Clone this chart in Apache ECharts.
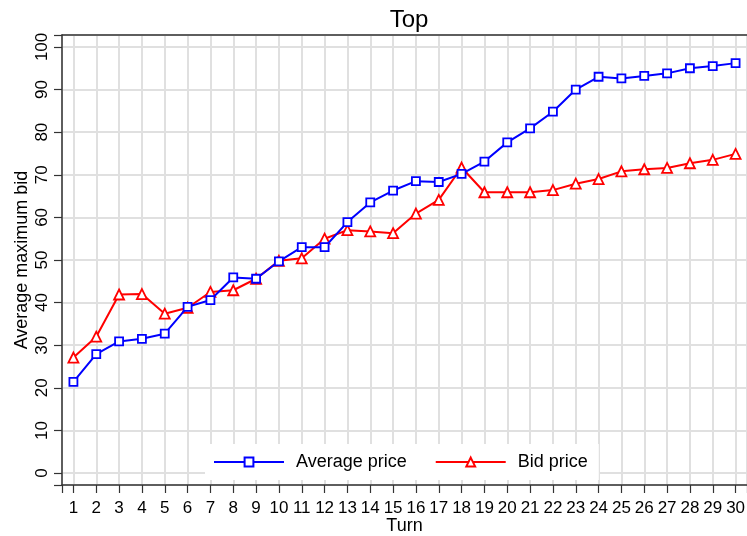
<!DOCTYPE html>
<html><head><meta charset="utf-8">
<script src="https://cdn.jsdelivr.net/npm/echarts@6/dist/echarts.min.js"></script>
<style>html,body{margin:0;padding:0;background:#fff}#c{width:747px;height:536px}</style>
</head><body><div id="c"></div>
<script>
const turns = [1,2,3,4,5,6,7,8,9,10,11,12,13,14,15,16,17,18,19,20,21,22,23,24,25,26,27,28,29,30];
const averagePrice = [21.4,27.9,30.9,31.5,32.7,39.0,40.6,45.9,45.6,49.7,53.0,53.0,58.9,63.5,66.3,68.5,68.3,70.2,73.1,77.6,80.9,84.8,90.0,93.0,92.6,93.2,93.8,95.0,95.5,96.2];
const bidPrice = [27.1,32.0,41.9,42.0,37.4,38.8,42.5,42.9,45.6,49.8,50.4,55.0,57.0,56.7,56.3,60.9,64.1,71.7,65.9,65.9,65.9,66.4,67.9,69.0,70.8,71.3,71.6,72.7,73.5,74.9];
const seriesNames = ['Average price', 'Bid price'];
const titleText = 'Top';
const xName = 'Turn';
const yName = 'Average maximum bid';

const chart = echarts.init(document.getElementById('c'), null, {renderer: 'canvas'});
const font = 'Liberation Sans, Arial, sans-serif';
const gridLine = {show: true, lineStyle: {color: '#e0e0e0', width: 2}};
const axisLine = {show: true, onZero: false, lineStyle: {color: '#333', width: 1.5}};
const pairs = vals => turns.map((t, i) => [t, vals[i]]);

chart.setOption({
  animation: false,
  backgroundColor: '#fff',
  title: {text: titleText, left: 404, textAlign: 'center', top: 3,
    textStyle: {fontFamily: font, fontSize: 24, fontWeight: 'normal', color: '#000'}},
  grid: {left: 62, right: 0, top: 35, bottom: 51, containLabel: false, outerBoundsMode: 'none'},
  legend: {
    left: 205, top: 444, padding: [9, 11, 9, 8], backgroundColor: '#fff',
    itemWidth: 70, itemHeight: 11, itemGap: 28,
    textStyle: {fontFamily: font, fontSize: 18, color: '#000', padding: [0, 0, 0, 7]},
    data: seriesNames
  },
  xAxis: [{
    type: 'value', min: 0.5, max: 30.5, splitNumber: 30, minInterval: 1, maxInterval: 1,
    name: xName, nameLocation: 'middle', nameGap: 32, nameMoveOverlap: false,
    nameTextStyle: {fontFamily: font, fontSize: 18, color: '#000'},
    axisLine: axisLine,
    axisTick: {show: true, length: 8, lineStyle: {color: '#333', width: 1.2}},
    axisLabel: {fontFamily: font, fontSize: 17, color: '#000', margin: 15,
      formatter: v => Number.isInteger(v) ? String(v) : ''},
    splitLine: gridLine
  }, {
    type: 'value', position: 'top', min: 0.5, max: 30.5,
    axisLine: axisLine, axisTick: {show: false}, axisLabel: {show: false}, splitLine: {show: false}
  }],
  yAxis: {
    type: 'value', min: -2.8, max: 102.8, splitNumber: 10, minInterval: 10, maxInterval: 10,
    name: yName, nameLocation: 'middle', nameGap: 31, nameMoveOverlap: false,
    nameTextStyle: {fontFamily: font, fontSize: 18, color: '#000'},
    axisLine: axisLine,
    axisTick: {show: true, length: 8, lineStyle: {color: '#333', width: 1.2}},
    axisLabel: {fontFamily: font, fontSize: 17, color: '#000', rotate: 90, margin: 11,
      formatter: v => (Math.abs(v % 10) < 1e-9) ? String(v) : ''},
    splitLine: gridLine
  },
  series: [{
    name: seriesNames[0], type: 'line', data: pairs(averagePrice),
    symbol: 'rect', symbolSize: 8,
    lineStyle: {color: '#0000ff', width: 2},
    itemStyle: {color: '#ffffff', borderColor: '#0000ff', borderWidth: 1.8},
    z: 3
  }, {
    name: seriesNames[1], type: 'line', data: pairs(bidPrice),
    symbol: 'triangle', symbolSize: 10,
    lineStyle: {color: '#ff0000', width: 2},
    itemStyle: {color: '#ffffff', borderColor: '#ff0000', borderWidth: 1.8},
    z: 2
  }]
});
</script></body></html>
